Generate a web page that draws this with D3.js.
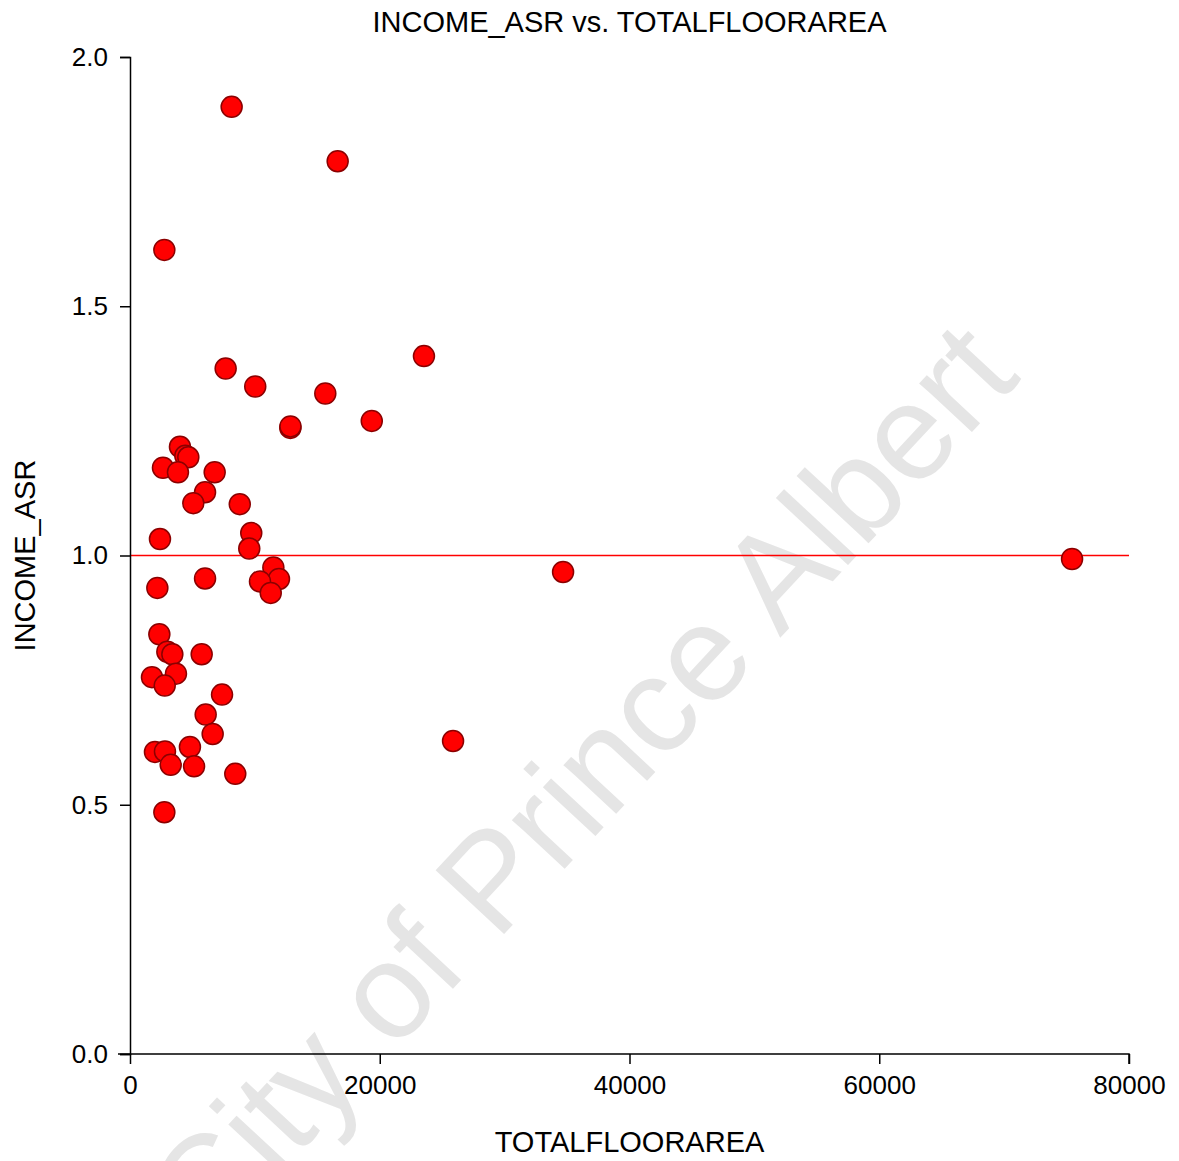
<!DOCTYPE html>
<html>
<head>
<meta charset="utf-8">
<script src="https://cdn.jsdelivr.net/npm/d3@7"></script>
<style>
  body { margin: 0; background: #fff; }
  svg text { font-family: 'Liberation Sans', Arial, sans-serif; }
  .axis path, .axis line { stroke: #000; stroke-width: 1.5; }
  .axis text { font-size: 26px; fill: #000; }
</style>
</head>
<body>
<div id="chart"></div>
<script>
// values
const floorArea = [
  8140, 16630, 2750, 23540, 7660, 10030, 15640, 19360, 12840, 12850,
  4000, 4430, 4670, 2640, 3840, 6780, 6010, 5070, 8790, 9710,
  2400, 9550, 11480, 6010, 11930, 10410, 11270, 2190, 34680, 75440,
  2350, 2990, 3390, 5740, 1760, 3680, 2780, 7370, 6060, 6620,
  25870, 2000, 2800, 4800, 3260, 5130, 8430, 2750
]
const incomeAsr = [
  1.900, 1.791, 1.613, 1.400, 1.375, 1.339, 1.325, 1.270, 1.256, 1.259,
  1.218, 1.200, 1.197, 1.176, 1.167, 1.167, 1.127, 1.105, 1.103, 1.045,
  1.033, 1.014, 0.976, 0.954, 0.953, 0.948, 0.925, 0.935, 0.967, 0.993,
  0.842, 0.807, 0.802, 0.802, 0.756, 0.763, 0.739, 0.721, 0.681, 0.642,
  0.628, 0.606, 0.607, 0.616, 0.580, 0.577, 0.562, 0.485
]
const xTicks = [0, 20000, 40000, 60000, 80000]
const yTicks = [0, 0.5, 1.0, 1.5, 2.0]
const refLine = 1.0

const points = floorArea.map((d, i) => ({ x: d, y: incomeAsr[i] }))

const margin = { top: 57, left: 130, right: 50, bottom: 107 }
const fullWidth = 1179
const fullHeight = 1161
const width = fullWidth - margin.left - margin.right
const height = fullHeight - margin.top - margin.bottom

const svg = d3
  .select('#chart')
  .append('svg')
  .attr('width', fullWidth)
  .attr('height', fullHeight)

// watermark
svg
  .append('text')
  .text('City of Prince Albert')
  .attr('transform', 'translate(615,815) rotate(-47)')
  .attr('text-anchor', 'middle')
  .attr('font-size', 136)
  .attr('fill', '#e5e5e5')

const g = svg
  .append('g')
  .attr('transform', 'translate(' + margin.left + ',' + margin.top + ')')

const xPositionScale = d3.scaleLinear().domain([0, 80000]).range([0, width])
const yPositionScale = d3.scaleLinear().domain([0, 2]).range([height, 0])

g.append('line')
  .attr('x1', 0)
  .attr('x2', width)
  .attr('y1', yPositionScale(refLine))
  .attr('y2', yPositionScale(refLine))
  .attr('stroke', '#ff0000')
  .attr('stroke-width', 1.5)

const xAxis = d3
  .axisBottom(xPositionScale)
  .tickValues(xTicks)
  .tickFormat(d3.format('d'))
  .tickSize(10)
  .tickPadding(12)
g.append('g')
  .attr('class', 'axis x-axis')
  .attr('transform', 'translate(0,' + height + ')')
  .call(xAxis)

const yAxis = d3
  .axisLeft(yPositionScale)
  .tickValues(yTicks)
  .tickFormat(d3.format('.1f'))
  .tickSize(10)
  .tickPadding(12)
g.append('g')
  .attr('class', 'axis y-axis')
  .call(yAxis)

// stretch the x axis a bit left of the origin, as in the picture
g.select('.x-axis .domain').attr('d', 'M-12,0H' + width + 'V10')

g.selectAll('.dot')
  .data(points)
  .enter()
  .append('circle')
  .attr('class', 'dot')
  .attr('cx', d => xPositionScale(d.x))
  .attr('cy', d => yPositionScale(d.y))
  .attr('r', 10.5)
  .attr('fill', '#ff0000')
  .attr('stroke', '#8b0000')
  .attr('stroke-width', 1.5)

svg
  .append('text')
  .text('INCOME_ASR vs. TOTALFLOORAREA')
  .attr('x', margin.left + width / 2)
  .attr('y', 32)
  .attr('text-anchor', 'middle')
  .attr('font-size', 29)

svg
  .append('text')
  .text('TOTALFLOORAREA')
  .attr('x', margin.left + width / 2)
  .attr('y', 1152)
  .attr('text-anchor', 'middle')
  .attr('font-size', 29)

svg
  .append('text')
  .text('INCOME_ASR')
  .attr('transform', 'translate(35,' + (margin.top + height / 2) + ') rotate(-90)')
  .attr('text-anchor', 'middle')
  .attr('font-size', 29)
</script>
</body>
</html>
